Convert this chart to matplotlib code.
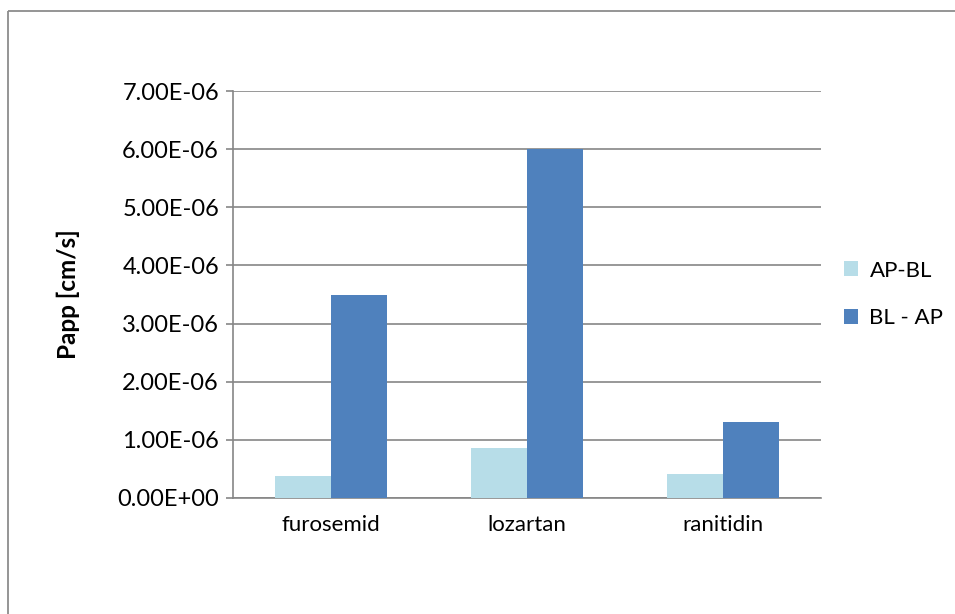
import matplotlib.pyplot as plt
import numpy as np
from matplotlib.lines import Line2D

# data
drugs = ["furosemid", "lozartan", "ranitidin"]
ap_bl = [0.37e-6, 0.855e-6, 0.42e-6]
bl_ap = [3.49e-6, 6.0e-6, 1.31e-6]
yticks = np.arange(0, 8) * 1e-6
ytick_labels = ["%.2fE%s" % (v * 1e6, "+00" if v == 0 else "-06") for v in yticks]

plt.rcParams['font.family'] = ['Lato', 'DejaVu Sans']

fig = plt.figure(figsize=(9.55, 6.14), dpi=100, facecolor='white')
ax = fig.add_axes([233 / 955, 1 - 498 / 614, 588 / 955, 407 / 614])

# outer chart border: only top and left edges are inside the picture
bx, by = 7.5 / 955, 1 - 11 / 614
for xs, ys in [([bx, 1.02], [by, by]), ([bx, bx], [by, -0.02])]:
    fig.lines.append(Line2D(xs, ys, transform=fig.transFigure,
                            color='#8c8c8c', linewidth=1.3,
                            solid_capstyle='butt'))

x = np.arange(len(drugs))
w = 0.286
ax.bar(x - w / 2, ap_bl, w, color='#b7dde8', label='AP-BL', zorder=3)
ax.bar(x + w / 2, bl_ap, w, color='#4f81bd', label='BL - AP', zorder=3)

ax.set_xlim(-0.5, 2.5)
ax.set_ylim(0, 7e-6)
ax.set_yticks(yticks)
ax.set_yticklabels(ytick_labels, fontsize=17)
ax.set_xticks(x)
ax.set_xticklabels(drugs, fontsize=16)
ax.tick_params(axis='x', length=0, pad=12)
ax.tick_params(axis='y', length=5, color='#868686', width=1.2, pad=5)
ax.grid(axis='y', color='#868686', linewidth=1.2, zorder=0)

for s in ['top', 'right']:
    ax.spines[s].set_visible(False)
for s in ['left', 'bottom']:
    ax.spines[s].set_color('#868686')
    ax.spines[s].set_linewidth(1.2)

ax.set_ylabel("Papp [cm/s]", fontsize=17.5, fontweight='bold')
ax.yaxis.set_label_coords((80 - 233) / 588, 0.5)

ax.legend(loc='center left', bbox_to_anchor=(1.005, 0.5), frameon=False,
          fontsize=16, handlelength=0.65, handleheight=0.65, labelspacing=1.25,
          handletextpad=0.5)

fig.savefig("out.png", dpi=100)
